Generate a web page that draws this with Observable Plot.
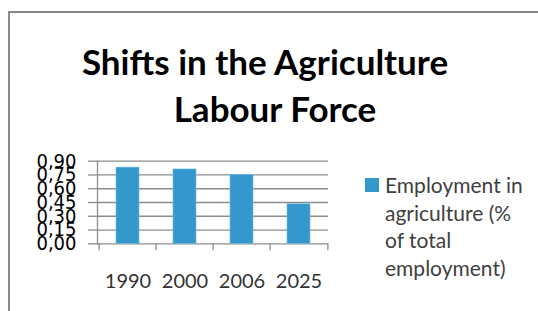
<!DOCTYPE html>
<html>
<head>
<meta charset="utf-8">
<script src="https://cdn.jsdelivr.net/npm/d3@7"></script>
<script src="https://cdn.jsdelivr.net/npm/@observablehq/plot@0.6"></script>
<style>
  html, body { margin: 0; padding: 0; background: #fff; }
  body { width: 538px; height: 311px; position: relative; overflow: hidden; }
  #frame { position: absolute; left: 8px; top: 11px; width: 600px; height: 400px;
           border-left: 2px solid #8a8a8a; border-top: 2px solid #8a8a8a; }
  .title { position: absolute; font-family: Lato, sans-serif; font-weight: bold; font-size: 35px;
           color: #000; white-space: nowrap; transform: translateX(-50%); line-height: 1; }
  #chart { position: absolute; left: 0; top: 140px; }
  #legend { position: absolute; left: 365px; top: 171px; font-family: Lato, sans-serif; font-size: 21px;
            color: #404040; line-height: 27.5px; }
  #legend .sw { position: absolute; left: 0; top: 7px; width: 14px; height: 14px; background: #3498cc; }
  #legend .txt { position: absolute; left: 20px; top: 0; width: 150px; }
</style>
</head>
<body>
<div id="frame"></div>
<div class="title" id="t1" style="left:265px; top:44px;"></div>
<div class="title" id="t2" style="left:275px; top:91px;"></div>
<div id="chart"></div>
<div id="legend"><div class="sw"></div><div class="txt"></div></div>
<script>
const titleLines = ["Shifts in the Agriculture", "Labour Force"];
const years = ["1990", "2000", "2006", "2025"];
const employment = [0.83, 0.81, 0.75, 0.43];
const yTicks = [0, 0.15, 0.30, 0.45, 0.60, 0.75, 0.90];
const seriesName = "Employment in agriculture (% of total employment)";

document.getElementById("t1").textContent = titleLines[0];
document.getElementById("t2").textContent = titleLines[1];
document.querySelector("#legend .txt").textContent = seriesName;

const data = years.map((y, i) => ({year: y, value: employment[i]}));

const W = 340, ml = 97, mr = 12;
const step = (W - ml - mr) / years.length;

const plot = Plot.plot({
  width: W,
  height: 171,
  marginLeft: ml,
  marginRight: mr,
  marginTop: 20.7,
  marginBottom: 67.7,
  style: {background: "transparent", overflow: "visible"},
  x: {domain: years, paddingInner: 0.6, paddingOuter: 0.3, axis: null},
  y: {domain: [0, 0.9], axis: null},
  marks: [
    Plot.ruleY(yTicks, {y: d => d, stroke: "#8c8c8c", strokeWidth: 1.3}),
    Plot.barY(data, {x: "year", y: "value", fill: "#3498cc", stroke: "#6cbde6", strokeWidth: 0.6}),
    Plot.frame({anchor: "left", stroke: "#8c8c8c", strokeWidth: 1.3}),
    Plot.ruleX(years, {x: d => d, dx: -step / 2, y1: 0, y2: 0, insetBottom: -7, stroke: "#8c8c8c", strokeWidth: 1.3}),
    Plot.ruleX(years.slice(-1), {x: d => d, dx: step / 2, y1: 0, y2: 0, insetBottom: -7, stroke: "#8c8c8c", strokeWidth: 1.3}),
    Plot.axisY({ticks: yTicks, tickSize: 9, tickPadding: 12, stroke: "#8c8c8c", strokeWidth: 1.3,
      tickFormat: d => d3.format(".2f")(d).replace(".", ","),
      fontSize: 20, fontFamily: "DejaVu Sans Condensed", fill: "#000", label: null}),
    Plot.axisX({tickSize: 0, tickPadding: 30, fontSize: 20, fontFamily: "Lato", fill: "#333", label: null})
  ]
});
document.getElementById("chart").appendChild(plot);
</script>
</body>
</html>
